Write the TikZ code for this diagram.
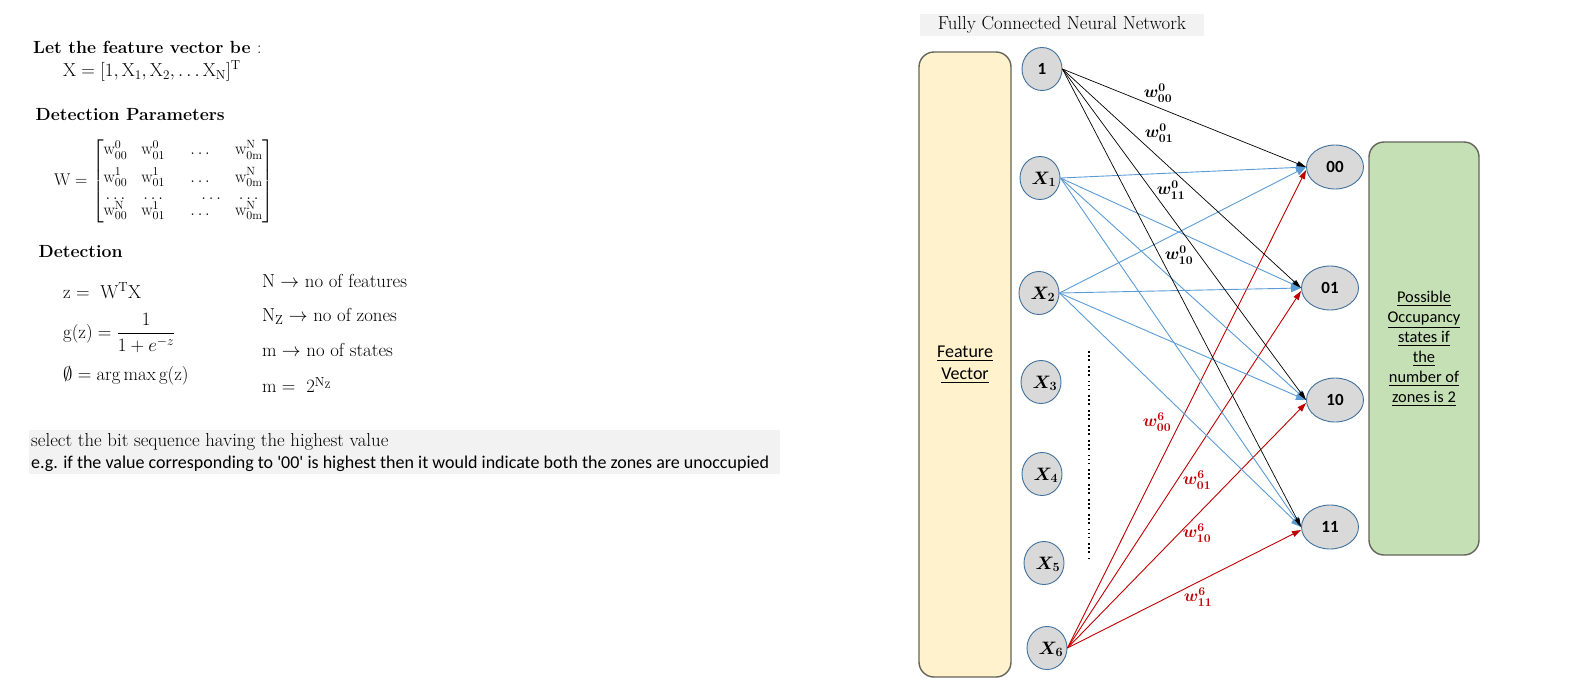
\RequirePackage{fix-cm}
\documentclass[tikz,border=0pt]{standalone}
\usepackage{fontspec}
\usepackage{amsmath}
\newfontfamily\calibri{Carlito}
\definecolor{nnblue}{RGB}{91,155,213}
\definecolor{nnred}{RGB}{192,0,0}
\definecolor{nnyellow}{RGB}{255,242,204}
\definecolor{nngreen}{RGB}{197,224,180}
\definecolor{nngray}{RGB}{217,217,217}
\definecolor{nnring}{RGB}{65,113,156}
\definecolor{nnframe}{RGB}{100,100,90}
\definecolor{nnpanel}{RGB}{242,242,242}
\usetikzlibrary{shapes,arrows.meta,positioning,calc}
\newcommand{\serifsz}{\fontsize{18.8}{22}\selectfont}
\newcommand{\headsz}{\fontsize{17.6}{21}\selectfont\bfseries}
\newcommand{\sanssz}{\calibri\fontsize{18}{22}\selectfont}

\begin{document}
\begin{tikzpicture}[x=1pt,y=-1pt,
    txt/.style={anchor=west, inner sep=0, font=\serifsz},
    head/.style={anchor=west, inner sep=0, font=\headsz},
    inode/.style={ellipse, draw=nnring, line width=0.9pt, fill=nngray, minimum width=40pt, minimum height=43pt, inner sep=0, font=\calibri\bfseries\fontsize{17}{19}\selectfont},
    onode/.style={inode, minimum width=57pt, minimum height=44pt},
    xlab/.style={font=\fontsize{18}{20}\selectfont, text depth=0pt},
    bigbox/.style={draw=nnframe, line width=1.4pt, rounded corners=15pt, align=center},
    wlab/.style={inner sep=0, font=\fontsize{17}{19}\selectfont},
    blackarrow/.style={line width=0.7pt, -{Triangle[length=9pt,width=5pt]}},
    bluearrow/.style={nnblue, line width=0.9pt, -{Triangle[length=10pt,width=8pt]}},
    redarrow/.style={nnred, line width=0.9pt, -{Triangle[length=9pt,width=6pt]}}]
    \useasboundingbox (0,0) rectangle (1591,689);

    % left column: formulas
    \node[head] (fvtitle) at (33,47.5) {Let the feature vector be \textmd{:}};
    \node[txt] (fvdef) at (63,71) {$\mathrm{X} = [1, \mathrm{X}_1, \mathrm{X}_2, \ldots \mathrm{X}_\mathrm{N}]^\mathrm{T}$};
    \node[head] (partitle) at (35.5,115) {Detection Parameters};
    \node[txt, font=\fontsize{17}{20}\selectfont] (wmat) at (54,181) {\setlength{\arraycolsep}{7pt}$\mathrm{W} = \begin{bmatrix}
        \mathrm{w}^0_{00} & \mathrm{w}^0_{01} & \ldots & \mathrm{w}^\mathrm{N}_{0\mathrm{m}}\\[7pt]
        \mathrm{w}^1_{00} & \mathrm{w}^1_{01} & \ldots & \mathrm{w}^\mathrm{N}_{0\mathrm{m}}\\[-3pt]
        \ldots & \ldots & \hphantom{\ldots}\ldots & \ldots\\[-4pt]
        \mathrm{w}^\mathrm{N}_{00} & \mathrm{w}^1_{01} & \ldots & \mathrm{w}^\mathrm{N}_{0\mathrm{m}}
        \end{bmatrix}$};
    \node[head] (dettitle) at (38.5,252) {Detection};
    \node[txt] (zeq) at (63,291) {$\mathrm{z} =\ \mathrm{W}^\mathrm{T}\mathrm{X}$};
    \node[txt] (geq) at (63,333) {$\mathrm{g(z)} = \dfrac{1}{1+e^{-z}}$};
    \node[txt] (phieq) at (63,376) {$\emptyset = \arg\max \mathrm{g(z)}$};
    \node[txt] (nfeat) at (262,281) {$\mathrm{N} \rightarrow$ no of features};
    \node[txt] (nzone) at (262,316) {$\mathrm{N_Z} \rightarrow$ no of zones};
    \node[txt] (mstate) at (262,350) {$\mathrm{m} \rightarrow$ no of states};
    \node[txt] (meq) at (262,385) {$\mathrm{m} =\ 2^{\mathrm{N_Z}}$};

    \fill[nnpanel] (29,430) rectangle (780,474);
    \node[txt] (note1) at (31,442) {select the bit sequence having the highest value};
    \node[txt, font=\sanssz] (note2) at (31,464) {e.g. if the value corresponding to '00' is highest then it would indicate both the zones are unoccupied};

    % network
    \node[fill=nnpanel, minimum width=284pt, minimum height=22pt, inner sep=0, font=\serifsz] (nettitle) at (1062,25) {Fully Connected Neural Network};
    \node[bigbox, fill=nnyellow, minimum width=92pt, minimum height=625pt, font=\sanssz] (fvbox) at (965,364.5) {\underline{Feature}\\\underline{Vector}};
    \node[bigbox, fill=nngreen, minimum width=110pt, minimum height=413pt, font=\calibri\fontsize{16.4}{20}\selectfont] (statebox) at (1424,348.5)
        {\underline{Possible}\\\underline{Occupancy}\\\underline{states if}\\\underline{the}\\\underline{number of}\\\underline{zones is 2}};

    \node[inode] (in1) at (1042,69) {1};
    \node[inode] (x1) at (1040,178) {};
    \node[inode] (x2) at (1039,293) {};
    \node[inode] (x3) at (1041,382) {};
    \node[inode] (x4) at (1042,474) {};
    \node[inode] (x5) at (1044,563) {};
    \node[inode] (x6) at (1047,648) {};
    \foreach \i in {1,...,6}
        \node[xlab] (x\i lab) at ([xshift=4pt]x\i.center) {$\boldsymbol{X_\i}$};
    \draw[line width=1.8pt, dash pattern=on 1.8pt off 2.2pt on 1.8pt off 2.2pt on 1.8pt off 5pt] (1089,351) -- (1089,559);

    \node[onode] (o00) at (1335,167) {00};
    \node[onode] (o01) at (1330,288) {01};
    \node[onode] (o10) at (1335,400) {10};
    \node[onode] (o11) at (1330,527) {11};

    \foreach \o in {00,01,10,11} {
        \draw[bluearrow] (x1.east) -- (o\o.west);
        \draw[bluearrow] (x2.east) -- (o\o.west);
        \draw[blackarrow] (in1.east) -- (o\o.west);
        \draw[redarrow] (x6.east) -- ([yshift=-3pt]o\o.west);
    }

    \node[wlab] (w0a) at (1158,93) {$\boldsymbol{w^{0}_{00}}$};
    \node[wlab] (w0b) at (1159,133) {$\boldsymbol{w^{0}_{01}}$};
    \node[wlab] (w0c) at (1171,190) {$\boldsymbol{w^{0}_{11}}$};
    \node[wlab] (w0d) at (1179,255) {$\boldsymbol{w^{0}_{10}}$};
    \node[wlab, nnred] (w6a) at (1157,422) {$\boldsymbol{w^{6}_{00}}$};
    \node[wlab, nnred] (w6b) at (1197,480) {$\boldsymbol{w^{6}_{01}}$};
    \node[wlab, nnred] (w6c) at (1197,533) {$\boldsymbol{w^{6}_{10}}$};
    \node[wlab, nnred] (w6d) at (1198,597) {$\boldsymbol{w^{6}_{11}}$};
\end{tikzpicture}
\end{document}
